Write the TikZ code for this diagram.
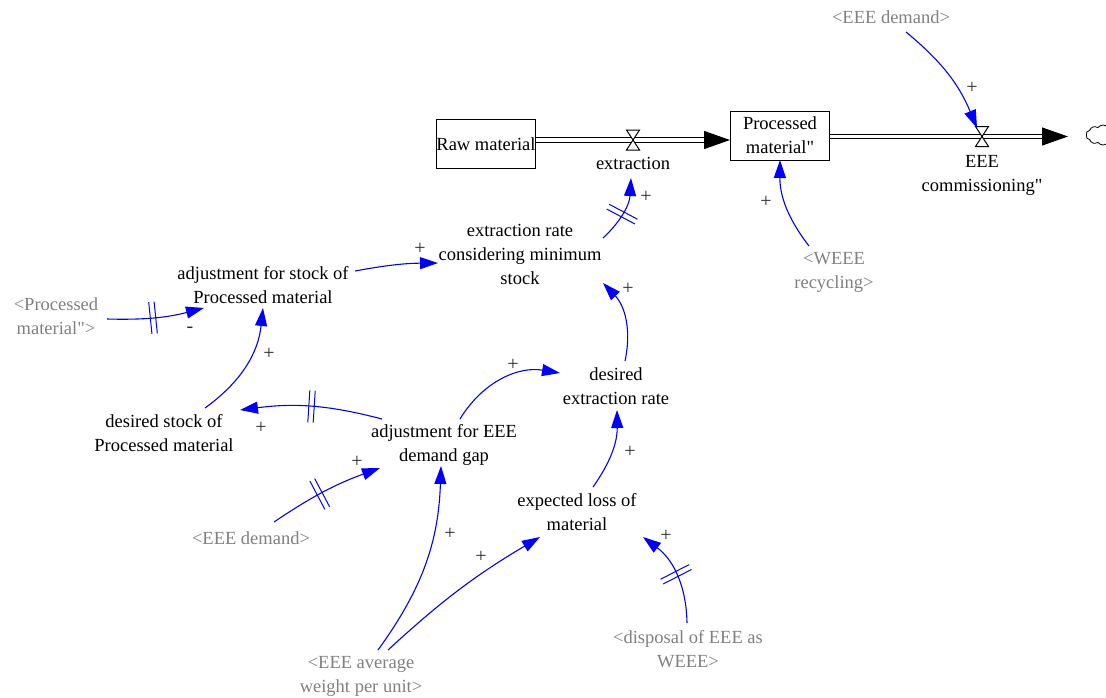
\documentclass[tikz,border=0pt]{standalone}
\usepackage{fontspec}
\setmainfont{Liberation Serif}
\usetikzlibrary{arrows.meta,calc,decorations.markings,shapes.symbols}
\definecolor{linkblue}{RGB}{0,0,255}
\definecolor{shadowgray}{RGB}{128,128,128}
\definecolor{signgray}{RGB}{45,45,45}

\begin{document}
\begin{tikzpicture}[x=1pt,y=1pt,
  every node/.style={font=\fontsize{18.5pt}{24pt}\selectfont, inner sep=0pt, align=center},
  stock/.style={draw, line width=1pt, minimum width=99pt, minimum height=49pt},
  var/.style={text=black},
  shadow/.style={text=shadowgray},
  sign/.style={text=signgray, font=\fontsize{20pt}{24pt}\selectfont},
  link/.style={color=linkblue, line width=1.1pt, -{Triangle[length=18pt,width=12pt]}},
  pipe/.style={draw, double, double distance=3.4pt, line width=1.1pt},
  pipehead/.style={-{Triangle[length=26pt,width=18pt]}, line width=1pt},
  valveshape/.style={draw, fill=white, line width=1pt},
  delaymark/.style={postaction={decorate,decoration={markings,mark=at position #1 with {\draw[linkblue,line width=1pt,-] (-2.7pt,-16pt)--(-2.7pt,16pt) (2.7pt,-16pt)--(2.7pt,16pt);}}}},
]
\useasboundingbox (0,0) rectangle (1106,-697);
\clip (0,0) rectangle (1106,-697);

% stocks
\node[stock] (raw) at (486,-144) {Raw material};
\node[stock] (proc) at (780,-135.5) {Processed\\material\textquotedbl};

% valves and sink
\node[minimum width=13pt, minimum height=20pt] (ext) at (633,-140) {};
\node[minimum width=13pt, minimum height=20pt] (commv) at (982,-136.5) {};
\node[cloud, draw, cloud puffs=10, cloud puff arc=110, aspect=1.7, minimum width=34pt, minimum height=20pt, line width=0.8pt] (sink) at (1103,-135) {};

% flow pipes
\draw[pipe] (raw.east |- ext) -- ($(proc.west |- ext)+(-24,0)$);
\draw[pipehead] ($(proc.west |- ext)+(-26,0)$) -- (proc.west |- ext);
\draw[pipe] (proc.east |- commv) -- ($(sink.center |- commv)+(-59,0)$);
\draw[pipehead] ($(sink.center |- commv)+(-61,0)$) -- ($(sink.center |- commv)+(-35,0)$);
\draw[valveshape] ($(ext)+(-6.5,10)$) -- ++(13,0) -- ++(-13,-20) -- ++(13,0) -- cycle;
\draw[valveshape] ($(commv)+(-6.5,10)$) -- ++(13,0) -- ++(-13,-20) -- ++(13,0) -- cycle;

% variables
\node[var] (extlab) at (633,-163) {extraction};
\node[var] (commlab) at (982,-175) {EEE\\commissioning\textquotedbl};
\node[shadow] (demTop) at (891,-17) {<EEE demand>};
\node[var] (erc) at (520,-254) {extraction rate\\considering minimum\\stock};
\node[var] (asp) at (263,-285) {adjustment for stock of\\Processed material};
\node[shadow] (pmIn) at (56,-316) {<Processed\\material\textquotedbl>};
\node[var] (dsp) at (164,-433) {desired stock of\\Processed material};
\node[var] (aed) at (444,-445) {adjustment for EEE\\demand gap};
\node[var] (der) at (616,-386) {desired\\extraction rate};
\node[var] (elm) at (577,-512) {expected loss of\\material};
\node[shadow] (demLow) at (251,-538) {<EEE demand>};
\node[shadow] (avg) at (361,-676) {<EEE average\\weight per unit>};
\node[shadow] (disp) at (688,-649) {<disposal of EEE as\\WEEE>};
\node[shadow] (weee) at (834,-272) {<WEEE\\recycling>};

% causal links
\draw[link] ([shift={(15,-15)}]demTop.center) to[bend left=14] ([shift={(-5,8.5)}]commv.center);
\draw[link] ([shift={(92,14)}]asp.center) to[bend left=5] ([shift={(-82,-9)}]erc.center);
\draw[link, delaymark=0.47] ([shift={(51,-3)}]pmIn.center) to[bend right=8] ([shift={(-59,-23)}]asp.center);
\draw[link] ([shift={(41,25)}]dsp.center) to[bend right=24] ([shift={(0,-23)}]asp.center);
\draw[link, delaymark=0.5] ([shift={(-62,26)}]aed.center) to[bend right=11] ([shift={(76,23)}]dsp.center);
\draw[link] ([shift={(16,26)}]aed.center) to[bend left=34] ([shift={(-56,13)}]der.center);
\draw[link] ([shift={(9,25)}]der.center) to[bend right=28] ([shift={(83,-29)}]erc.center);
\draw[link, delaymark=0.45] ([shift={(83,16)}]erc.center) to[bend right=22] ([shift={(-2,-15)}]extlab.center);
\draw[link] ([shift={(16,25)}]elm.center) to[bend right=18] ([shift={(1,-24)}]der.center);
\draw[link, delaymark=0.45] ([shift={(23,16)}]demLow.center) to[bend left=7] ([shift={(-64,-23)}]aed.center);
\draw[link] ([shift={(17,26)}]avg.center) to[bend right=17] ([shift={(-3,-21)}]aed.center);
\draw[link] ([shift={(27,26)}]avg.center) to[bend left=6] ([shift={(-37,-25)}]elm.center);
\draw[link, delaymark=0.5] ([shift={(-1,26)}]disp.center) to[bend right=26] ([shift={(66,-25)}]elm.center);
\draw[link] ([shift={(-25,26)}]weee.center) to[bend left=19] ([shift={(0,-24.5)}]proc.center);

% polarity signs
\node[sign] (s1) at (972,-88) {+};
\node[sign] (s2) at (420,-249) {+};
\node[sign] (s3) at (190,-330) {-};
\node[sign] (s4) at (269,-354) {+};
\node[sign] (s5) at (261,-428) {+};
\node[sign] (s6) at (513,-365) {+};
\node[sign] (s7) at (628,-289) {+};
\node[sign] (s8) at (646,-197) {+};
\node[sign] (s9) at (630,-452) {+};
\node[sign] (s10) at (357,-462) {+};
\node[sign] (s11) at (450,-534) {+};
\node[sign] (s12) at (481,-557) {+};
\node[sign] (s13) at (666,-536) {+};
\node[sign] (s14) at (766,-202) {+};
\end{tikzpicture}
\end{document}
